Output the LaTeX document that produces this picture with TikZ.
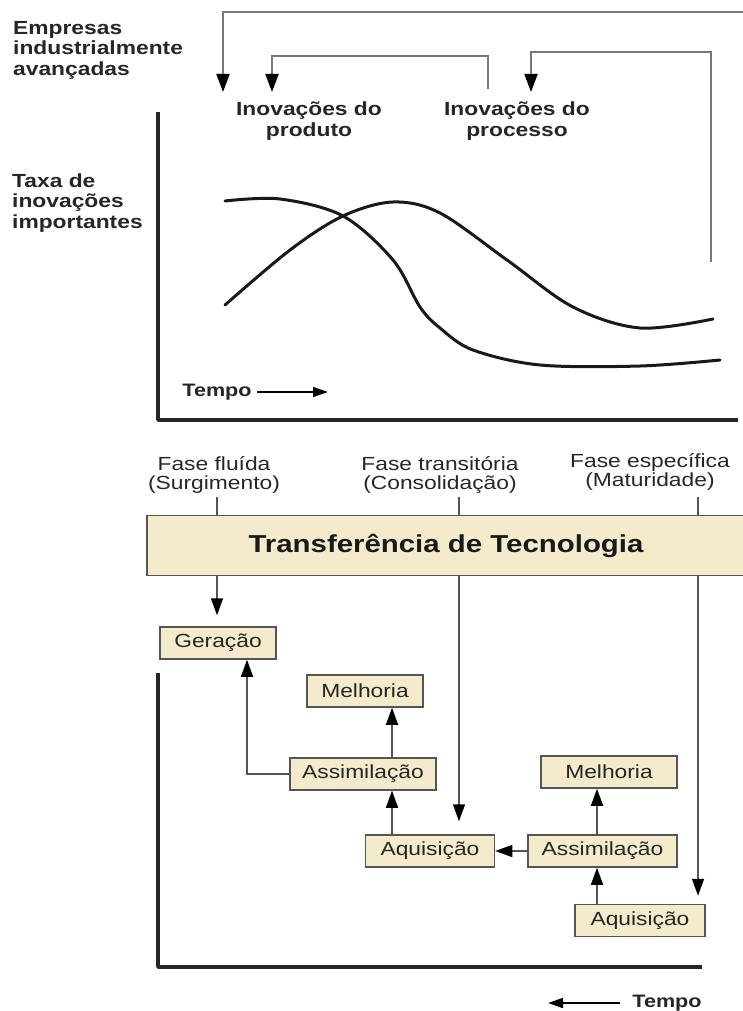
\documentclass[tikz,border=0pt]{standalone}
\usepackage{fontspec}
\setmainfont[FakeStretch=1.2]{Liberation Sans}
\usetikzlibrary{arrows.meta}
\definecolor{bege}{RGB}{244,235,204}
\definecolor{cinza}{RGB}{85,85,85}
\definecolor{cinzaclaro}{RGB}{120,120,120}
\tikzset{
  caixa/.style={draw=cinza, line width=1.5pt, fill=bege, minimum height=32pt, inner xsep=12pt, inner ysep=0pt, text=black!85, font=\fontsize{19}{20}\selectfont},
  faixa/.style={draw=cinza, line width=1.5pt, fill=bege, minimum width=598pt, minimum height=60pt, text=black!90, font=\bfseries\fontsize{24.5}{26}\selectfont},
  rotulo/.style={font=\bfseries\fontsize{19}{20.5}\selectfont, align=center, inner sep=0pt, text=black!85},
  fase/.style={font=\fontsize{19}{19.5}\selectfont, align=center, inner sep=0pt, text=black!85},
  seta/.style={cinza, line width=1.5pt, -{Triangle[width=12pt,length=17pt,color=black,fill=black]}},
  setatopo/.style={cinzaclaro, line width=2pt, -{Triangle[width=13pt,length=18pt,color=black,fill=black]}},
  setatempo/.style={black, line width=1.5pt, -{Triangle[width=10pt,length=15pt]}},
  curva/.style={line width=3pt, line cap=round, black!90},
  eixo/.style={line width=3.5pt, line join=round, black!85}
}
\begin{document}
\begin{tikzpicture}[x=1pt, y=-1pt]
  \useasboundingbox (0,0) rectangle (743,1011);

  % Rótulos do gráfico superior
  \node[rotulo, align=left, anchor=north west] (emp) at (13,21) {Empresas\\industrialmente\\avançadas};
  \node[rotulo, align=left, anchor=west] (taxa) at (12,203) {Taxa de\\inovações\\importantes};
  \node[rotulo] (iprod) at (309,121) {Inovações do\\produto};
  \node[rotulo] (iproc) at (517,121) {Inovações do\\processo};

  % Setas de cima
  \coordinate (e0) at (743,12);
  \coordinate (e1) at (223,92);
  \coordinate (p0) at (488,89);
  \coordinate (p1) at (272,92);
  \coordinate (q0) at (711,262);
  \coordinate (q1) at (531,92);
  \draw[setatopo] (e0) -| (e1);
  \draw[setatopo] (p0) -- ++(0,-33) -| (p1);
  \draw[setatopo] (q0) -- ++(0,-210) -| (q1);

  % Eixos
  \draw[eixo] (158,112) -- (158,420) -- (738,420);

  % Curvas
  \draw[curva] plot[smooth, tension=0.55] coordinates {(225,201) (280,199) (343,216) (393,260) (420,307) (440,328) (473,350) (540,365) (640,366) (720,360)};
  \draw[curva] plot[smooth, tension=0.55] coordinates {(225,305) (290,250) (343,216) (393,202) (440,213) (507,260) (573,307) (640,328) (713,319)};

  % Tempo
  \node[rotulo, font=\bfseries\fontsize{18}{20}\selectfont] (tempoA) at (217,392) {Tempo};
  \coordinate (tempoA2) at (328,392);
  \draw[setatempo] ([xshift=5pt]tempoA.east) -- (tempoA2);

  % Fases
  \node[fase] (fase1) at (214,475) {Fase fluída\\(Surgimento)};
  \node[fase] (fase2) at (440,475) {Fase transitória\\(Consolidação)};
  \node[fase] (fase3) at (650,472) {Fase específica\\(Maturidade)};
  \coordinate (t1) at (217,497);
  \coordinate (t2) at (459,497);
  \coordinate (t3) at (698,497);

  % Caixas
  \node[caixa, minimum width=116pt] (gera) at (218,643) {Geração};
  \node[caixa, minimum width=116pt] (melh1) at (365,691) {Melhoria};
  \node[caixa, minimum width=146pt] (assim1) at (363,774) {Assimilação};
  \node[caixa, minimum width=129pt] (aquis1) at (430,851) {Aquisição};
  \node[caixa, minimum width=149pt] (assim2) at (602.5,851) {Assimilação};
  \node[caixa, minimum width=136pt] (melh2) at (609,772) {Melhoria};
  \node[caixa, minimum width=130pt] (aquis2) at (640,920.5) {Aquisição};

  % Linhas das fases
  \draw[seta, shorten >=11pt] (t1) -- (t1 |- gera.north);
  \draw[seta, shorten >=13pt] (t2) -- (t2 |- aquis1.north);
  \draw[seta, shorten >=8pt] (t3) -- (t3 |- aquis2.north);

  % Faixa
  \node[faixa] (banda) at (446,545.5) {Transferência de Tecnologia};

  % Ligações
  \coordinate (v1) at (392,0);
  \coordinate (v2) at (597,0);
  \draw[seta] (assim1.west) -| ([xshift=29pt]gera.south);
  \draw[seta] (v1 |- aquis1.north) -- (v1 |- assim1.south);
  \draw[seta] (v1 |- assim1.north) -- (v1 |- melh1.south);
  \draw[seta] (assim2.west) -- (aquis1.east);
  \draw[seta] (v2 |- aquis2.north) -- (v2 |- assim2.south);
  \draw[seta] (v2 |- assim2.north) -- (v2 |- melh2.south);

  % Eixos de baixo
  \draw[eixo] (158,673) -- (158,967) -- (702,967);

  % Tempo
  \node[rotulo, font=\bfseries\fontsize{18}{20}\selectfont] (tempoB) at (667,1003) {Tempo};
  \coordinate (tempoB2) at (548,1003);
  \draw[setatempo] ([xshift=-12pt]tempoB.west) -- (tempoB2);
\end{tikzpicture}
\end{document}
